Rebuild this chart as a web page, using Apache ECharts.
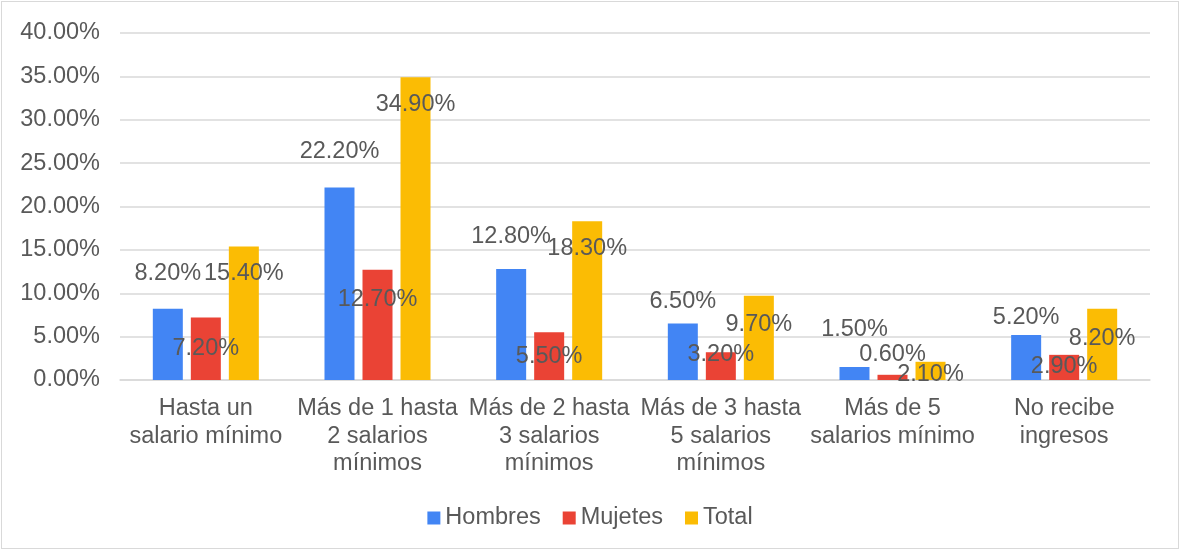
<!DOCTYPE html>
<html>
<head>
<meta charset="utf-8">
<script src="https://cdn.jsdelivr.net/npm/echarts@6/dist/echarts.min.js"></script>
<style>
    html, body { margin: 0; padding: 0; background: #fff; }
    #wrap { position: relative; width: 1180px; height: 550px; }
    #chart { width: 1180px; height: 550px; }
    #marco { position: absolute; left: 1px; top: 1px; right: 1px; bottom: 1px; border: 1px solid #d9d9d9; pointer-events: none; }
</style>
</head>
<body>
<div id="wrap">
    <div id="chart"></div>
    <div id="marco"></div>
</div>
<script>
// datos
var categorias = ['Hasta un\nsalario mínimo', 'Más de 1 hasta\n2 salarios\nmínimos', 'Más de 2 hasta\n3 salarios\nmínimos',
    'Más de 3 hasta\n5 salarios\nmínimos', 'Más de 5\nsalarios mínimo', 'No recibe\ningresos'];
var hombres = [8.2, 22.2, 12.8, 6.5, 1.5, 5.2];
var mujeres = [7.2, 12.7, 5.5, 3.2, 0.6, 2.9];
var total = [15.4, 34.9, 18.3, 9.7, 2.1, 8.2];

// desplazamiento vertical de las etiquetas respecto a la parte superior de la barra
var despHombres = [-37, -38, -34, -24, -39, -19];
var despMujeres = [29, 28, 22, 1, -22, 10];
var despTotal = [25, 26, 26, 27, 11, 28];

var textColor = '#595959';
var fuente = 23.5;

function serieDatos(valores, desp) {
    return valores.map(function (v, i) {
        return {
            value: v,
            label: { offset: [0, desp[i] + fuente / 2 + 2] }
        };
    });
}

function serie(nombre, valores, desp, color) {
    return {
        name: nombre,
        type: 'bar',
        barWidth: 30,
        barGap: '26.7%',
        itemStyle: { color: color },
        label: {
            show: true,
            position: 'top',
            distance: 0,
            color: textColor,
            fontSize: fuente,
            formatter: function (p) { return p.value.toFixed(2) + '%'; }
        },
        data: serieDatos(valores, desp)
    };
}

var myChart = echarts.init(document.getElementById('chart'));
var option = {
    animation: false,
    textStyle: { fontFamily: 'Liberation Sans, Arial' },
    grid: { left: 120, right: 30, top: 33, bottom: 170 },
    legend: {
        top: 501,
        left: 'center',
        itemWidth: 13,
        itemHeight: 13,
        itemGap: 22,
        icon: 'rect',
        textStyle: { color: textColor, fontSize: fuente },
        data: ['Hombres', 'Mujetes', 'Total']
    },
    xAxis: {
        type: 'category',
        data: categorias,
        axisLine: { lineStyle: { color: '#d9d9d9', width: 1.5 } },
        axisTick: { show: false },
        axisLabel: {
            color: textColor,
            fontSize: fuente,
            lineHeight: 27.5,
            margin: 15,
            interval: 0
        }
    },
    yAxis: {
        type: 'value',
        min: 0,
        max: 40,
        interval: 5,
        axisLine: { show: false },
        axisTick: { show: false },
        splitLine: { lineStyle: { color: '#d9d9d9', width: 1.5 } },
        axisLabel: {
            color: textColor,
            fontSize: fuente,
            margin: 20,
            formatter: function (v) { return v.toFixed(2) + '%'; }
        }
    },
    series: [
        serie('Hombres', hombres, despHombres, '#4285f4'),
        serie('Mujetes', mujeres, despMujeres, '#ea4335'),
        serie('Total', total, despTotal, '#fbbc04')
    ]
};
myChart.setOption(option);
</script>
</body>
</html>
